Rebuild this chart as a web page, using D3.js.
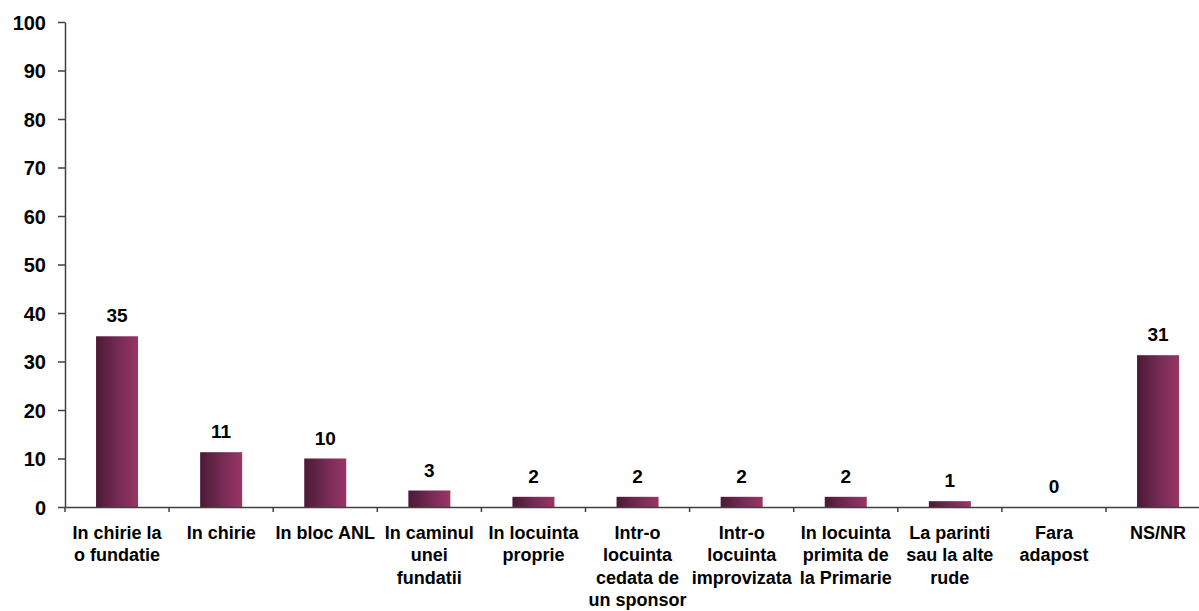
<!DOCTYPE html>
<html>
<head>
<meta charset="utf-8">
<script src="https://cdn.jsdelivr.net/npm/d3@7"></script>
<style>
  html, body { margin: 0; padding: 0; background: #fff; }
  svg { display: block; font-family: "Liberation Sans", Arial, sans-serif; font-weight: bold; }
</style>
</head>
<body>
<svg id="chart" width="1199" height="611"></svg>
<script>
  // categories (one entry per line of the axis label)
  const categories = [
    ["In chirie la", "o fundatie"],
    ["In chirie"],
    ["In bloc ANL"],
    ["In caminul", "unei", "fundatii"],
    ["In locuinta", "proprie"],
    ["Intr-o", "locuinta", "cedata de", "un sponsor"],
    ["Intr-o", "locuinta", "improvizata"],
    ["In locuinta", "primita de", "la Primarie"],
    ["La parinti", "sau la alte", "rude"],
    ["Fara", "adapost"],
    ["NS/NR"]
  ]
  const values = [35.2, 11.3, 10.0, 3.4, 2.1, 2.1, 2.1, 2.1, 1.2, 0, 31.3]
  const yTicks = [0, 10, 20, 30, 40, 50, 60, 70, 80, 90, 100]

  const width = 1199, height = 611
  const margin = { top: 22, left: 65, bottom: 104 }
  const step = 104.1
  const y0 = height - margin.bottom   // 507

  const svg = d3.select("#chart")
  const keys = categories.map((c, i) => i)

  let xScale = d3.scaleBand().domain(keys).range([margin.left, margin.left + step * keys.length]).padding(0)
  let yScale = d3.scaleLinear().domain([0, 100]).range([y0, margin.top])

  const defs = svg.append("defs")
  const grad = defs.append("linearGradient").attr("id", "barGrad")
    .attr("x1", "0").attr("x2", "1").attr("y1", "0").attr("y2", "0")
  grad.append("stop").attr("offset", "0%").attr("stop-color", "#4a1a34")
  grad.append("stop").attr("offset", "55%").attr("stop-color", "#772c55")
  grad.append("stop").attr("offset", "100%").attr("stop-color", "#9a3565")

  const axisColor = "#404040"

  // bars
  const barW = 42
  svg.append("g").selectAll("rect").data(values).join("rect")
    .attr("x", (d, i) => xScale(i) + xScale.bandwidth() / 2 - barW / 2)
    .attr("width", barW)
    .attr("y", d => yScale(d))
    .attr("height", d => y0 - yScale(d))
    .attr("fill", "url(#barGrad)")

  // value labels
  svg.append("g").selectAll("text").data(values).join("text")
    .attr("x", (d, i) => xScale(i) + xScale.bandwidth() / 2)
    .attr("y", d => yScale(d) - 14)
    .attr("text-anchor", "middle")
    .style("font-size", "19px")
    .attr("fill", "#000")
    .text(d => d3.format(".0f")(d))

  // y axis
  let yAxis = d3.axisLeft(yScale).tickValues(yTicks).tickSize(7).tickSizeOuter(0).tickPadding(12)
  const gy = svg.append("g").attr("transform", `translate(${margin.left}, 0)`).call(yAxis)
  gy.selectAll(".domain, .tick line").attr("stroke", axisColor).attr("stroke-width", 1.5)
  gy.selectAll(".tick text").style("font-size", "20px").attr("fill", "#000").attr("dy", "0.36em")

  // x axis: labels centred in bands, ticks on band edges
  let xAxis = d3.axisBottom(xScale).tickSize(0).tickSizeOuter(0).tickFormat("")
  const gx = svg.append("g").attr("transform", `translate(0, ${y0})`).call(xAxis)
  gx.select(".domain").attr("stroke", axisColor).attr("stroke-width", 1.5)

  const edges = keys.map(k => xScale(k)).concat([xScale.range()[1]])
  gx.selectAll("line.edge").data(edges).join("line")
    .attr("class", "edge")
    .attr("x1", d => d).attr("x2", d => d)
    .attr("y1", 0).attr("y2", 5)
    .attr("stroke", axisColor).attr("stroke-width", 1.5)

  gx.selectAll(".tick").each(function(k) {
    const t = d3.select(this).select("text")
      .attr("y", 32).attr("dy", null)
      .style("font-size", "18px").attr("fill", "#000")
    categories[k].forEach((line, j) => {
      t.append("tspan").attr("x", 0).attr("dy", j === 0 ? 0 : 22.4).text(line)
    })
  })
</script>
</body>
</html>
